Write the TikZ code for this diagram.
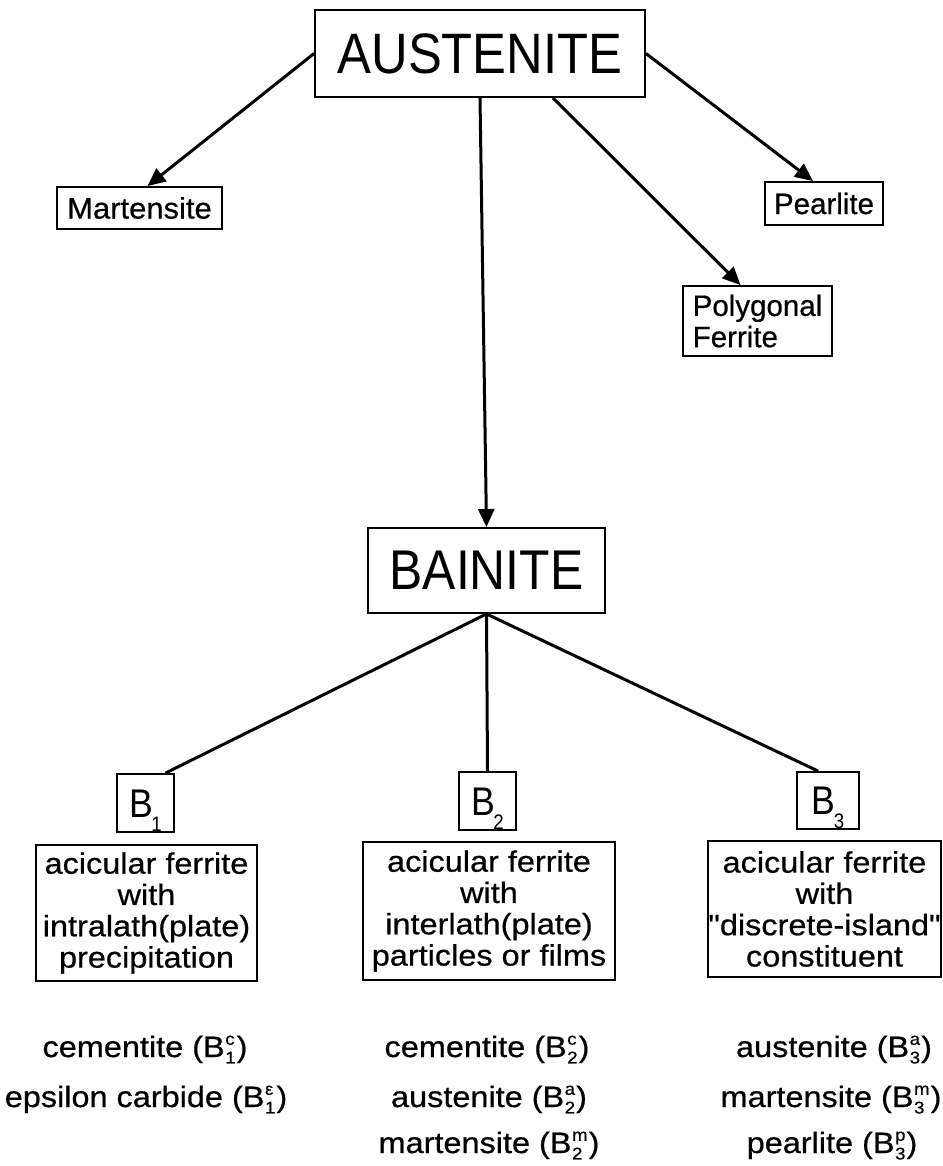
\documentclass[tikz,border=0pt]{standalone}
\usepackage{fontspec}
\setmainfont{Liberation Sans}
\newfontfamily\bigfont[FakeStretch=0.89]{Liberation Sans}
\newfontfamily\wfont[FakeStretch=1.1,FakeBold=0.6]{Liberation Sans}
\newfontfamily\sfont[FakeBold=0.6]{Liberation Sans}
\usetikzlibrary{arrows.meta}
\newcommand{\Bx}[2]{B\kern0.5pt\begingroup\fontsize{17}{17}\selectfont\ooalign{\raisebox{0.72em}{#1}\cr\raisebox{-0.38em}{#2}\cr}\endgroup\kern1pt}
\newcommand{\Bs}[1]{B\kern-1.5pt\raisebox{-14pt}{\fontsize{21}{21}\selectfont #1}}
\begin{document}
\begin{tikzpicture}[x=1pt,y=-1pt,
  box/.style={draw, line width=1.9pt, inner sep=0pt, align=center},
  conn/.style={line width=3pt},
  arr/.style={conn, -{Triangle[length=18pt,width=16pt]}},
  bigtxt/.style={font=\bigfont\fontsize{57}{57}\selectfont},
  smalltxt/.style={font=\sfont\fontsize{29.5}{31.3}\selectfont},
  widetxt/.style={font=\wfont\fontsize{29.5}{31.3}\selectfont},
  bbox/.style={box, font=\bigfont\fontsize{40}{40}\selectfont, text height=28pt, text depth=0pt},
  lab/.style={inner sep=0pt, anchor=base, font=\wfont\fontsize{29.5}{31.3}\selectfont}]
\useasboundingbox (0,0) rectangle (942,1166);

% top level
\node[box, bigtxt, minimum width=330pt, minimum height=87pt] (aus) at (480,53.5) {AUSTENITE};
\node[box, font=\bigfont\fontsize{56}{56}\selectfont, minimum width=237pt, minimum height=85pt] (bai) at (486.5,570.5) {BAINITE};
\node[box, font=\sfont\fontsize{29.5}{31.3}\selectfont\addfontfeature{FakeStretch=1.05}, minimum width=165pt, minimum height=42pt] (mar) at (139.5,208) {Martensite};
\node[box, smalltxt, minimum width=118pt, minimum height=43pt] (pea) at (824,203.5) {Pearlite};
\node[box, smalltxt, align=left, minimum width=149pt, minimum height=70pt] (pol) at (757.5,321) {Polygonal\\Ferrite};

% arrows from austenite
\draw[arr] (aus.west) -- ([xshift=8pt]mar.north);
\draw[arr] (aus.east) -- ([xshift=-11pt]pea.north);
\draw[arr] ([xshift=73pt]aus.south) -- ([xshift=-17pt]pol.north);
\draw[arr] (aus.south) -- (bai.north);

% bainite types
\node[bbox, minimum width=57pt, minimum height=58pt] (b1) at (145.5,803) {\Bs{1}};
\node[bbox, minimum width=57pt, minimum height=58pt] (b2) at (487.5,801) {\Bs{2}};
\node[bbox, minimum width=62pt, minimum height=57pt] (b3) at (828,800.5) {\Bs{3}};

\draw[conn] (bai.south) -- ([xshift=20pt]b1.north);
\draw[conn] (bai.south) -- (b2.north);
\draw[conn] (bai.south) -- ([xshift=-10pt]b3.north);

% descriptions
\node[box, widetxt, minimum width=221pt, minimum height=136pt] (d1) at (146.5,913) {acicular ferrite\\with\\intralath(plate)\\precipitation};
\node[box, widetxt, minimum width=252pt, minimum height=138pt] (d2) at (489,911) {acicular ferrite\\with\\interlath(plate)\\particles or films};
\node[box, widetxt, minimum width=233pt, minimum height=136pt] (d3) at (824.5,909) {acicular ferrite\\with\\"discrete-island"\\constituent};

% constituents
\node[lab] (c11) at (145,1057) {cementite (\Bx{c}{1})};
\node[lab] (c12) at (146,1107) {epsilon carbide (\Bx{ε}{1})};
\node[lab] (c21) at (487,1057) {cementite (\Bx{c}{2})};
\node[lab] (c22) at (489,1107) {austenite (\Bx{a}{2})};
\node[lab] (c23) at (489,1153) {martensite (\Bx{m}{2})};
\node[lab] (c31) at (834,1057) {austenite (\Bx{a}{3})};
\node[lab] (c32) at (831,1107) {martensite (\Bx{m}{3})};
\node[lab] (c33) at (832,1153) {pearlite (\Bx{p}{3})};
\end{tikzpicture}
\end{document}
